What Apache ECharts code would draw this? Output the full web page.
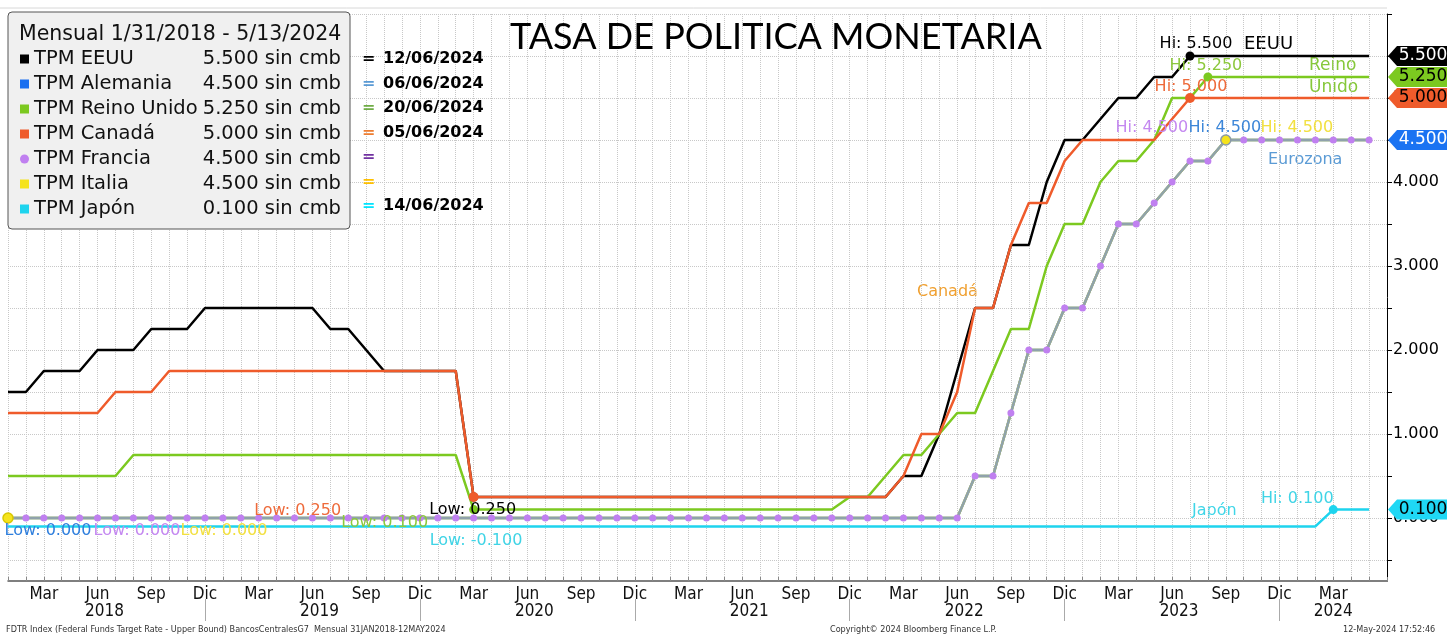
<!DOCTYPE html>
<html>
<head>
<meta charset="utf-8">
<title>Tasa de politica monetaria</title>
<script src="https://cdn.jsdelivr.net/npm/echarts@6/dist/echarts.min.js"></script>
<style>
  html, body { margin: 0; padding: 0; background: #fff; }
  #main { width: 1447px; height: 635px; }
</style>
</head>
<body>
<div id="main"></div>
<script>
// meses (fin de mes) desde ene 2018 hasta jun 2024
var meses = ['Ene', 'Feb', 'Mar', 'Abr', 'May', 'Jun', 'Jul', 'Ago', 'Sep', 'Oct', 'Nov', 'Dic'];
var anios = [2018, 2019, 2020, 2021, 2022, 2023, 2024];

// tasas mensuales
var tpmEEUU = [
    1.5, 1.5, 1.75, 1.75, 1.75, 2, 2, 2, 2.25, 2.25, 2.25, 2.5,
    2.5, 2.5, 2.5, 2.5, 2.5, 2.5, 2.25, 2.25, 2, 1.75, 1.75, 1.75,
    1.75, 1.75, 0.25, 0.25, 0.25, 0.25, 0.25, 0.25, 0.25, 0.25, 0.25, 0.25,
    0.25, 0.25, 0.25, 0.25, 0.25, 0.25, 0.25, 0.25, 0.25, 0.25, 0.25, 0.25,
    0.25, 0.25, 0.5, 0.5, 1, 1.75, 2.5, 2.5, 3.25, 3.25, 4, 4.5,
    4.5, 4.75, 5, 5, 5.25, 5.25, 5.5, 5.5, 5.5, 5.5, 5.5, 5.5,
    5.5, 5.5, 5.5, 5.5, 5.5
];
var tpmReinoUnido = [
    0.5, 0.5, 0.5, 0.5, 0.5, 0.5, 0.5, 0.75, 0.75, 0.75, 0.75, 0.75,
    0.75, 0.75, 0.75, 0.75, 0.75, 0.75, 0.75, 0.75, 0.75, 0.75, 0.75, 0.75,
    0.75, 0.75, 0.1, 0.1, 0.1, 0.1, 0.1, 0.1, 0.1, 0.1, 0.1, 0.1,
    0.1, 0.1, 0.1, 0.1, 0.1, 0.1, 0.1, 0.1, 0.1, 0.1, 0.1, 0.25,
    0.25, 0.5, 0.75, 0.75, 1, 1.25, 1.25, 1.75, 2.25, 2.25, 3, 3.5,
    3.5, 4, 4.25, 4.25, 4.5, 5, 5, 5.25, 5.25, 5.25, 5.25, 5.25,
    5.25, 5.25, 5.25, 5.25, 5.25
];
var tpmCanada = [
    1.25, 1.25, 1.25, 1.25, 1.25, 1.25, 1.5, 1.5, 1.5, 1.75, 1.75, 1.75,
    1.75, 1.75, 1.75, 1.75, 1.75, 1.75, 1.75, 1.75, 1.75, 1.75, 1.75, 1.75,
    1.75, 1.75, 0.25, 0.25, 0.25, 0.25, 0.25, 0.25, 0.25, 0.25, 0.25, 0.25,
    0.25, 0.25, 0.25, 0.25, 0.25, 0.25, 0.25, 0.25, 0.25, 0.25, 0.25, 0.25,
    0.25, 0.25, 0.5, 1, 1, 1.5, 2.5, 2.5, 3.25, 3.75, 3.75, 4.25,
    4.5, 4.5, 4.5, 4.5, 4.5, 4.75, 5, 5, 5, 5, 5, 5,
    5, 5, 5, 5, 5
];
// BCE: Alemania, Francia e Italia tienen la misma tasa
var tpmEurozona = [
    0, 0, 0, 0, 0, 0, 0, 0, 0, 0, 0, 0,
    0, 0, 0, 0, 0, 0, 0, 0, 0, 0, 0, 0,
    0, 0, 0, 0, 0, 0, 0, 0, 0, 0, 0, 0,
    0, 0, 0, 0, 0, 0, 0, 0, 0, 0, 0, 0,
    0, 0, 0, 0, 0, 0, 0.5, 0.5, 1.25, 2, 2, 2.5,
    2.5, 3, 3.5, 3.5, 3.75, 4, 4.25, 4.25, 4.5, 4.5, 4.5, 4.5,
    4.5, 4.5, 4.5, 4.5, 4.5
];
var tpmJapon = [
    -0.1, -0.1, -0.1, -0.1, -0.1, -0.1, -0.1, -0.1, -0.1, -0.1, -0.1, -0.1,
    -0.1, -0.1, -0.1, -0.1, -0.1, -0.1, -0.1, -0.1, -0.1, -0.1, -0.1, -0.1,
    -0.1, -0.1, -0.1, -0.1, -0.1, -0.1, -0.1, -0.1, -0.1, -0.1, -0.1, -0.1,
    -0.1, -0.1, -0.1, -0.1, -0.1, -0.1, -0.1, -0.1, -0.1, -0.1, -0.1, -0.1,
    -0.1, -0.1, -0.1, -0.1, -0.1, -0.1, -0.1, -0.1, -0.1, -0.1, -0.1, -0.1,
    -0.1, -0.1, -0.1, -0.1, -0.1, -0.1, -0.1, -0.1, -0.1, -0.1, -0.1, -0.1,
    -0.1, -0.1, 0.1, 0.1, 0.1
];

// marcas del eje de tasas
var yTicks = [-0.5, 0, 0.5, 1, 1.5, 2, 2.5, 3, 3.5, 4, 4.5, 5, 5.5, 6];
var yLabels = [0, 1, 2, 3, 4, 5];

// fechas de la proxima reunion (texto a la derecha de la leyenda)
var proximas = ['12/06/2024', '06/06/2024', '20/06/2024', '05/06/2024', '', '', '14/06/2024'];
var colorIgual = ['#000000', '#5b9bd5', '#70ad47', '#ed7d31', '#7030a0', '#ffc000', '#00e5ff'];

var FONT = "'DejaVu Sans', sans-serif";
var FONT_C = "'DejaVu Sans Condensed', 'DejaVu Sans', sans-serif";

var categorias = [];
for (var i = 0; i < 78; i++) {
    categorias.push(meses[i % 12] + ' ' + anios[Math.floor(i / 12)]);
}
var ultimo = categorias.length - 1;

function fmt3(v) {
    return Number(v).toFixed(3);
}

// etiquetas Hi / Low
function hiLow(tipo, color, dx, dy, symColor, symSize, border) {
    return {
        type: tipo,
        symbol: 'circle',
        symbolSize: symSize,
        itemStyle: { color: symColor, borderColor: border || symColor, borderWidth: border ? 1.5 : 0 },
        label: {
            show: true,
            position: 'inside',
            offset: [dx, dy],
            color: color,
            fontFamily: FONT,
            fontSize: 16,
            formatter: function (p) {
                return (tipo == 'max' ? 'Hi: ' : 'Low: ') + fmt3(p.value);
            }
        }
    };
}

// etiqueta con flecha sobre el eje derecho
function etiquetaEje(serie, fondo, texto) {
    return {
        coord: [ultimo, serie[serie.length - 1]],
        value: serie[serie.length - 1],
        symbol: 'path://M0,10 L9,0 L64,0 L64,20 L9,20 Z',
        symbolSize: [64, 20],
        symbolOffset: [33, 0],
        itemStyle: { color: fondo, borderWidth: 0 },
        label: {
            show: true,
            position: 'inside',
            offset: [3, 0],
            color: texto,
            fontFamily: FONT,
            fontSize: 17,
            formatter: function (p) { return fmt3(p.value); }
        }
    };
}

var chart = echarts.init(document.getElementById('main'));

var seriesList = [
    {
        name: 'TPM EEUU', data: tpmEEUU, color: '#000000',
        marks: [hiLow('max', '#000000', 6, -12, '#000000', 9), hiLow('min', '#000000', -1, 13, '#000000', 9),
            etiquetaEje(tpmEEUU, '#000000', '#ffffff')]
    },
    {
        name: 'TPM Alemania', data: tpmEurozona, color: '#1a6ff0', z: 1,
        marks: [hiLow('max', '#3c86d8', -1, -12, '#1a6ff0', 8), hiLow('min', '#2f7fdd', 40, 13, '#1a6ff0', 1),
            etiquetaEje(tpmEurozona, '#1a73f2', '#ffffff')]
    },
    {
        name: 'TPM Reino Unido', data: tpmReinoUnido, color: '#7cc920',
        marks: [hiLow('max', '#8cc83c', -2, -11, '#7cc920', 9), hiLow('min', '#8cc83c', -89, 13, '#7cc920', 9),
            etiquetaEje(tpmReinoUnido, '#7cc920', '#000000')]
    },
    {
        name: 'TPM Canadá', data: tpmCanada, color: '#ef5b2b',
        marks: [hiLow('max', '#ee6a3a', 1, -11, '#ef5b2b', 10), hiLow('min', '#ee6a3a', -176, 14, '#ef5b2b', 10),
            etiquetaEje(tpmCanada, '#ef5b2b', '#000000')]
    },
    {
        name: 'TPM Francia', data: tpmEurozona, color: '#c080f0', symbols: true, line: '#8fa2ab',
        marks: [hiLow('max', '#c488f0', -74, -12, '#c080f0', 7), hiLow('min', '#c488f0', 129, 13, '#c080f0', 7)]
    },
    {
        name: 'TPM Italia', data: tpmEurozona, color: '#f5e31c', z: 1,
        marks: [hiLow('max', '#f2e040', 71, -12, '#f5e31c', 10, '#8a9aa8'), hiLow('min', '#f2e040', 216, 13, '#f5e31c', 10, '#d8c800')]
    },
    {
        name: 'TPM Japón', data: tpmJapon, color: '#1ed4ee',
        marks: [hiLow('max', '#40d4e6', -36, -11, '#1ed4ee', 9), hiLow('min', '#40d4e6', 468, 14, '#1ed4ee', 1),
            etiquetaEje(tpmJapon, '#1fd8f5', '#000000')]
    }
];

var series = seriesList.map(function (s) {
    return {
        name: s.name,
        type: 'line',
        data: s.data,
        z: s.z || 2,
        showSymbol: !!s.symbols,
        showAllSymbol: true,
        symbol: 'circle',
        symbolSize: 7,
        itemStyle: { color: s.color },
        lineStyle: { color: s.line || s.color, width: 2.5 },
        emphasis: { disabled: true },
        markPoint: { silent: true, data: s.marks }
    };
});

var valorLeyenda = {};
seriesList.forEach(function (s) {
    valorLeyenda[s.name] = fmt3(s.data[s.data.length - 1]);
});

var graficos = [
    { type: 'text', x: 19, y: 35, z: 100, style: { text: 'Mensual 1/31/2018 - 5/13/2024', font: '20.5px ' + FONT, fill: '#111', verticalAlign: 'middle' } },
    { type: 'text', x: 1244, y: 44, style: { text: 'EEUU', font: '18px ' + FONT, fill: '#000', verticalAlign: 'middle' } },
    { type: 'text', x: 1309, y: 66, style: { text: 'Reino', font: '17px ' + FONT, fill: '#86c83a', verticalAlign: 'middle' } },
    { type: 'text', x: 1309, y: 88, style: { text: 'Unido', font: '17px ' + FONT, fill: '#86c83a', verticalAlign: 'middle' } },
    { type: 'text', x: 917, y: 292, style: { text: 'Canadá', font: '16px ' + FONT, fill: '#f0a030', verticalAlign: 'middle' } },
    { type: 'text', x: 1268, y: 160, style: { text: 'Eurozona', font: '16px ' + FONT, fill: '#5b9bd5', verticalAlign: 'middle' } },
    { type: 'text', x: 1192, y: 511, style: { text: 'Japón', font: '16px ' + FONT, fill: '#3fd6e8', verticalAlign: 'middle' } },
    { type: 'text', x: 6, y: 630, style: { text: 'FDTR Index (Federal Funds Target Rate - Upper Bound) BancosCentralesG7  Mensual 31JAN2018-12MAY2024', font: '9px ' + FONT_C, fill: '#333', verticalAlign: 'middle' } },
    { type: 'text', x: 830, y: 630, style: { text: 'Copyright\u00a9 2024 Bloomberg Finance L.P.', font: '9px ' + FONT_C, fill: '#333', verticalAlign: 'middle' } },
    { type: 'text', x: 1343, y: 630, style: { text: '12-May-2024 17:52:46', font: '9px ' + FONT_C, fill: '#333', verticalAlign: 'middle' } },
    { type: 'line', z: 0, shape: { x1: 0, y1: 8, x2: 1387, y2: 8 }, style: { stroke: '#d8d8d8', lineWidth: 1 } }
];
for (var r = 0; r < proximas.length; r++) {
    var yy = 59 + r * 24.5;
    graficos.push({ type: 'text', x: 362, y: yy, z: 100, style: { text: '=', font: 'bold 16px ' + FONT, fill: colorIgual[r], verticalAlign: 'middle' } });
    if (proximas[r]) {
        graficos.push({ type: 'text', x: 383, y: yy, z: 100, style: { text: proximas[r], font: 'bold 16px ' + FONT, fill: '#000', verticalAlign: 'middle' } });
    }
}

var option = {
    animation: false,
    backgroundColor: '#ffffff',
    title: {
        text: 'TASA DE POLITICA MONETARIA',
        left: 510,
        top: 19,
        padding: 0,
        textStyle: { fontFamily: 'Lato', fontSize: 36, fontWeight: 'normal', color: '#000' }
    },
    legend: {
        left: 8,
        top: 12,
        orient: 'vertical',
        backgroundColor: '#f0f0f0',
        borderColor: '#555',
        borderWidth: 1,
        borderRadius: 4,
        padding: [37, 9, 10, 12],
        itemGap: 5,
        itemWidth: 9,
        itemHeight: 9,
        selectedMode: false,
        data: seriesList.map(function (s) {
            return { name: s.name, icon: s.symbols ? 'circle' : 'rect' };
        }),
        formatter: function (name) {
            return '{n|' + name + '}{v|' + valorLeyenda[name] + ' sin cmb}';
        },
        textStyle: {
            fontFamily: FONT,
            fontSize: 19.5,
            color: '#111',
            rich: {
                n: { width: 166, fontFamily: FONT, fontSize: 19.5, color: '#111' },
                v: { width: 141, align: 'right', fontFamily: FONT, fontSize: 19.5, color: '#111' }
            }
        }
    },
    // grid 0: datos; grid 1: solo la reticula horizontal cada 0.5 (de -0.5 a 6)
    grid: [
        { left: 8, right: 60, top: 14, bottom: 54 },
        { left: 8, right: 60, top: 14, bottom: 75 }
    ],
    xAxis: [
        {
            type: 'category',
            data: categorias,
            boundaryGap: false,
            axisLine: { onZero: false, lineStyle: { color: '#555', width: 1.5 } },
            axisTick: { show: true, inside: true, length: 4, interval: 0, lineStyle: { color: '#888' } },
            splitLine: { show: true, interval: 0, lineStyle: { color: '#c8c8c8', type: 'dotted' } },
            axisLabel: {
                interval: function (idx) { return idx % 3 == 2 && idx < ultimo; },
                formatter: function (v) { return v.split(' ')[0]; },
                margin: 5,
                color: '#111',
                fontFamily: FONT_C,
                fontSize: 17
            }
        },
        {
            type: 'category',
            data: categorias,
            boundaryGap: false,
            position: 'bottom',
            offset: 18,
            axisLine: { show: false, onZero: false },
            axisTick: { show: true, length: 22, interval: function (idx) { return idx % 12 == 11; }, lineStyle: { color: '#aaa' } },
            splitLine: { show: false },
            axisLabel: {
                interval: function (idx) { return (idx % 12 == 5 && idx < 72) || idx == 74; },
                formatter: function (v, idx) {
                    var anio = v.split(' ')[1];
                    return idx == 74 ? anio : '{a|' + anio + '}';
                },
                rich: { a: { padding: [0, 0, 0, 14], fontFamily: FONT_C, fontSize: 17, color: '#111' } },
                margin: 4,
                color: '#111',
                fontFamily: FONT_C,
                fontSize: 17
            }
        },
        { type: 'value', gridIndex: 1, show: false, splitLine: { show: false } }
    ],
    yAxis: [
        {
            type: 'value',
            position: 'right',
            min: -0.75,
            max: 6,
            axisLine: { show: true, lineStyle: { color: '#000', width: 1 } },
            axisTick: { show: true, customValues: yTicks, length: 5, lineStyle: { color: '#000' } },
            splitLine: { show: false },
            axisLabel: {
                customValues: yLabels,
                formatter: function (v) { return fmt3(v); },
                margin: 6,
                color: '#000',
                fontFamily: FONT,
                fontSize: 16
            }
        },
        {
            type: 'value',
            gridIndex: 1,
            min: -0.5,
            max: 6,
            interval: 0.5,
            axisLine: { show: false },
            axisTick: { show: false },
            axisLabel: { show: false },
            splitLine: { show: true, lineStyle: { color: '#c8c8c8', type: 'dotted' } }
        }
    ],
    graphic: graficos,
    series: series
};

chart.setOption(option);
</script>
</body>
</html>
